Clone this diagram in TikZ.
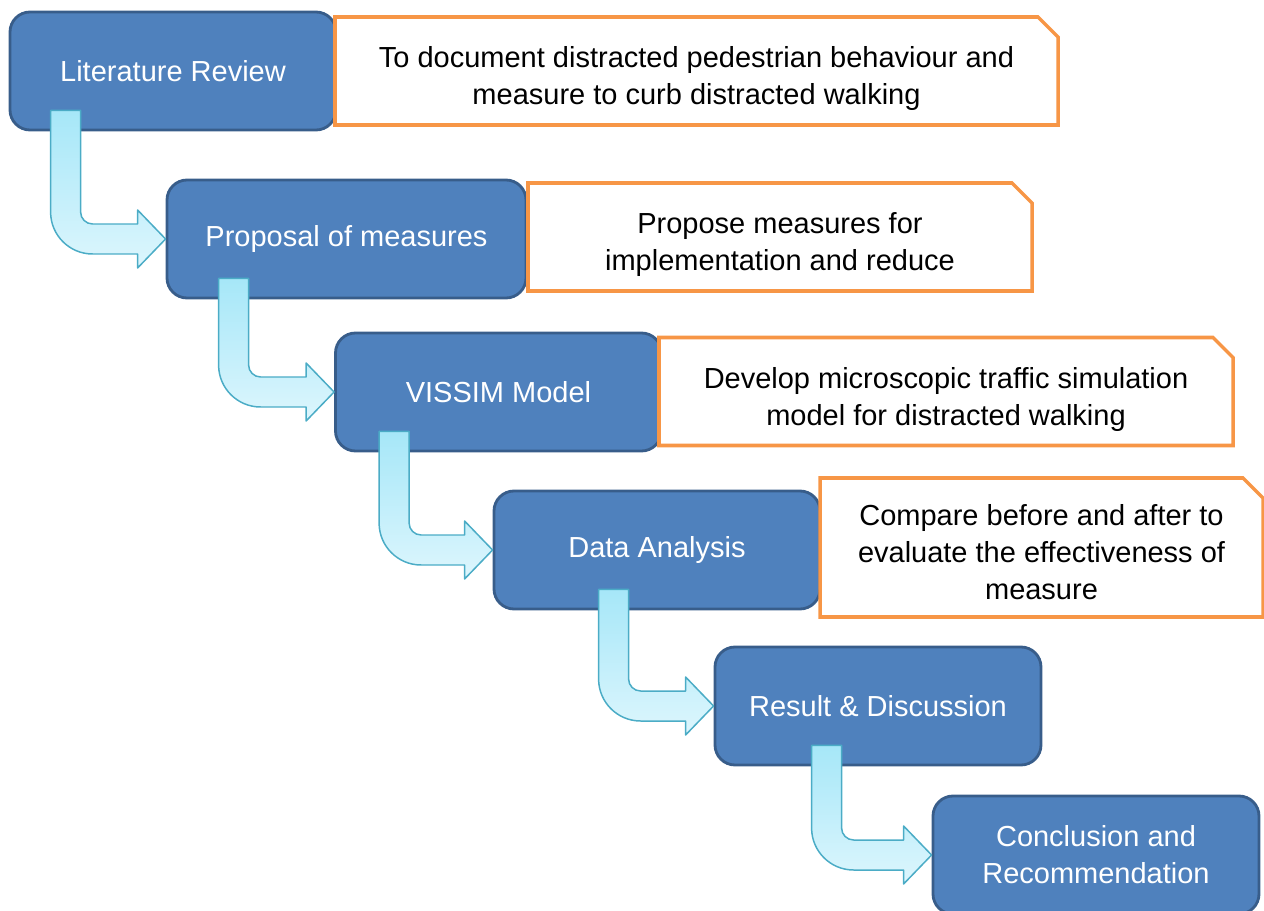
\documentclass[tikz,border=0pt]{standalone}
\usepackage{fontspec}
\setmainfont{Liberation Sans}
\usetikzlibrary{calc,shapes.misc}
\definecolor{stageblue}{HTML}{4F81BD}
\definecolor{stageedge}{HTML}{385D8A}
\definecolor{noteorange}{HTML}{F79646}
\definecolor{arrowedge}{HTML}{4BACC6}
\definecolor{arrowtop}{HTML}{A6E7F8}
\definecolor{arrowbot}{HTML}{DDF6FD}
\newcommand{\notetext}[1]{\raisebox{-0.16cm}[\height][\depth]{\begin{tabular}{@{}c@{}}#1\end{tabular}}}
\tikzset{
  stage/.style={draw=stageedge, fill=stageblue, line width=1.6pt,
    rounded corners=0.4cm, minimum width=6.52cm, minimum height=2.36cm,
    inner sep=0pt, text=white, align=center,
    font=\fontsize{16.5}{21}\selectfont},
  note/.style={chamfered rectangle, chamfered rectangle corners=north east,
    chamfered rectangle xsep=0.2cm, chamfered rectangle ysep=0.2cm,
    draw=noteorange, fill=white, line width=2pt, inner sep=0pt,
    minimum height=2.16cm, text=black,
    font=\fontsize{16.5}{21}\selectfont},
  flowarrow/.style={draw=arrowedge, line width=0.85pt, line join=round,
    top color=arrowtop, bottom color=arrowbot}
}

\begin{document}
\begin{tikzpicture}
    \useasboundingbox (0,0) rectangle (25.28,-18.22);
    % stages
    \node[stage] (lit) at (3.46,-1.42) {Literature Review};
    \node[stage, minimum width=7.18cm] (prop) at (6.93,-4.78) {Proposal of measures};
    \node[stage] (vis) at (9.97,-7.84) {VISSIM Model};
    \node[stage] (data) at (13.14,-11.0) {Data Analysis};
    \node[stage] (res) at (17.56,-14.12) {Result \& Discussion};
    \node[stage] (conc) at (21.92,-17.1) {Conclusion and\\Recommendation};
    % notes
    \node[note, minimum width=14.46cm] (litnote) at (13.93,-1.42)
      {\notetext{To document distracted pedestrian behaviour and\\measure to curb distracted walking}};
    \node[note, minimum width=10.08cm] (propnote) at (15.6,-4.74)
      {\notetext{Propose measures for\\implementation and reduce}};
    \node[note, minimum width=11.48cm] (visnote) at (18.92,-7.83)
      {\notetext{Develop microscopic traffic simulation\\model for distracted walking}};
    \node[note, minimum width=8.86cm, minimum height=2.78cm] (datanote) at (20.83,-10.95)
      {\notetext{Compare before and after to\\evaluate the effectiveness of\\measure}};
    % bent arrows
    \foreach \a/\b/\off in {lit/prop/0.84cm, prop/vis/1.06cm, vis/data/0.9cm,
                            data/res/2.12cm, res/conc/1.96cm}
      \path[flowarrow] let \p1=(\a.south west), \p2=(\b.west) in
        (\x1+\off,\y1+0.42cm) -- (\x1+\off,\y2+0.54cm)
        arc[start angle=180, end angle=270, radius=0.84cm]
        -- (\x2-0.56cm,\y2-0.3cm) -- (\x2-0.56cm,\y2-0.58cm) -- (\x2,\y2)
        -- (\x2-0.56cm,\y2+0.58cm) -- (\x2-0.56cm,\y2+0.3cm)
        -- (\x1+\off+0.84cm,\y2+0.3cm)
        arc[start angle=270, end angle=180, radius=0.24cm]
        -- (\x1+\off+0.6cm,\y1+0.42cm) -- cycle;
\end{tikzpicture}
\end{document}
